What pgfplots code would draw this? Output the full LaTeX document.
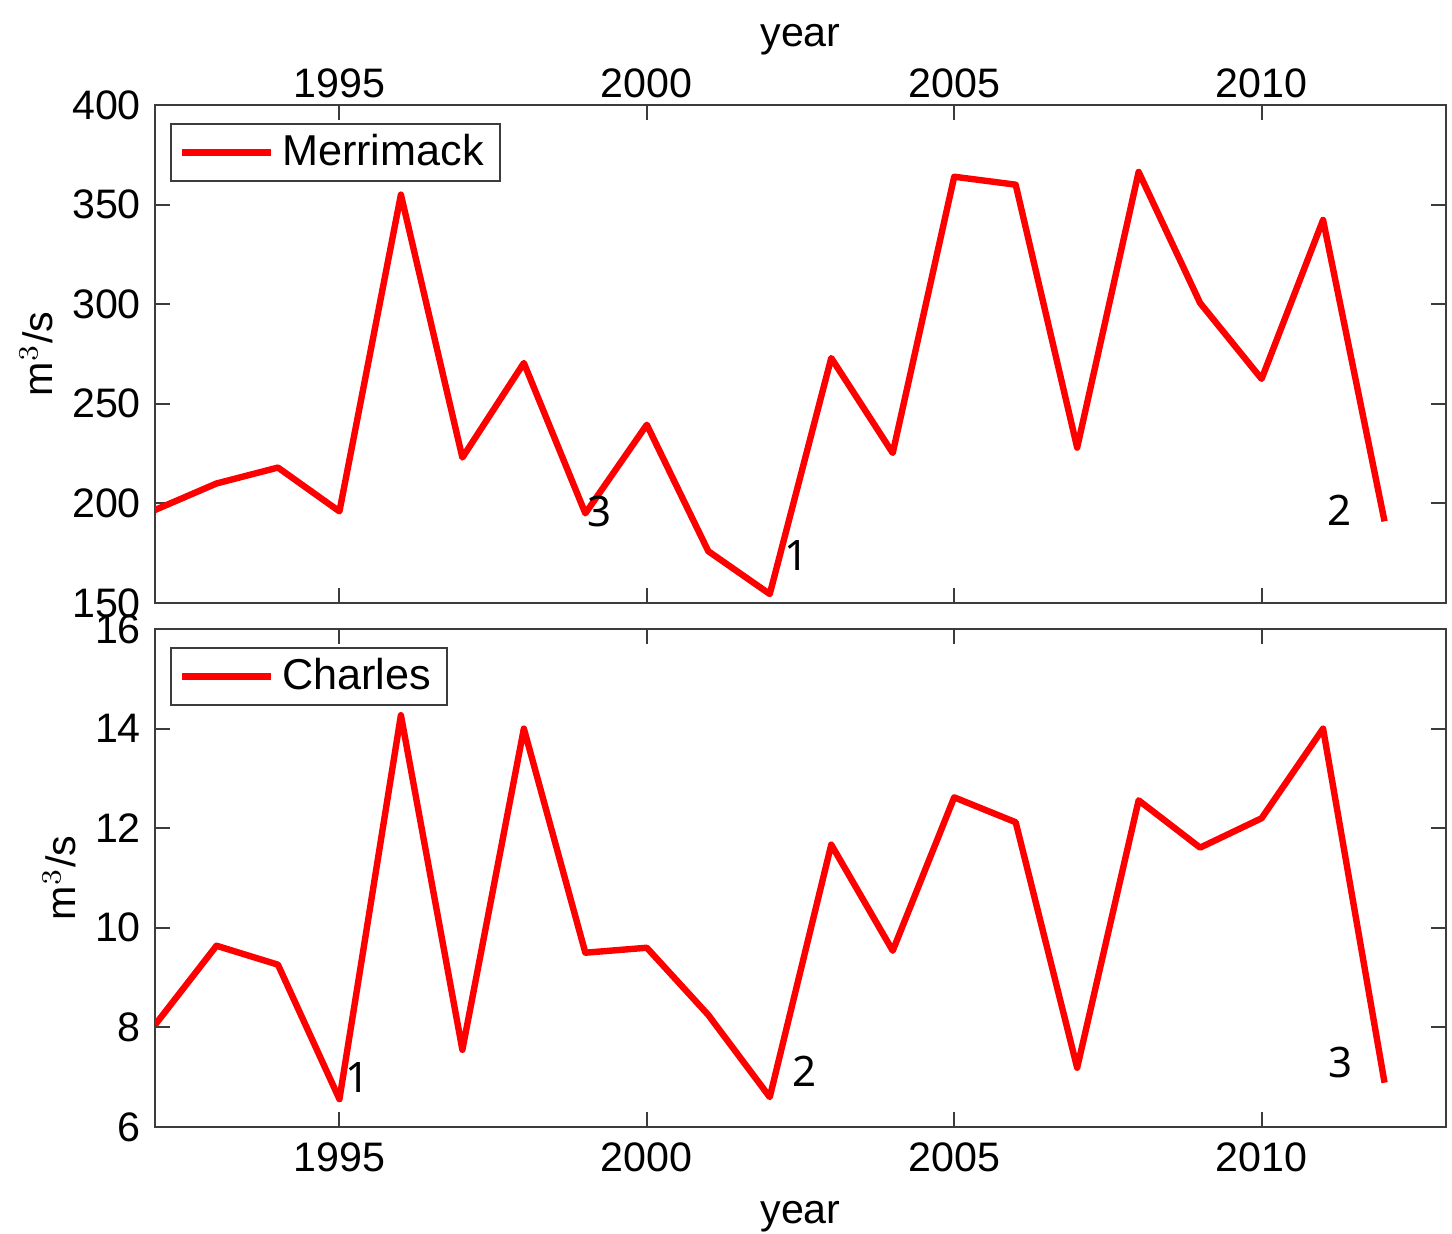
\documentclass[border=0pt]{standalone}
\usepackage{fontspec}
\setmainfont{Liberation Sans}
\newfontfamily\notefont{Noto Sans}
\usepackage{pgfplots}
\pgfplotsset{compat=1.18}

\definecolor{axgray}{RGB}{60,60,60}

\pgfplotsset{
  flowaxis/.style={
    scale only axis,
    width=322.75pt, height=124.5pt,
    xmin=1992, xmax=2013,
    xtick={1995,2000,2005,2010},
    axis line style={axgray, line width=0.5pt},
    every tick/.style={axgray, line width=0.5pt},
    major tick length=3.7pt,
    tick align=inside,
    ytick pos=both, yticklabel pos=left,
    xtick pos=both,
    /pgf/number format/assume math mode=true,
    /pgf/number format/1000 sep={},
    tick label style={font=\fontsize{10.3}{12}\selectfont},
    label style={font=\fontsize{10.3}{12}\selectfont},
    ylabel={m$^3$/s},
    legend style={at={(0.0116,0.964)}, anchor=north west,
      draw=axgray, line width=0.5pt,
      font=\fontsize{10.8}{11}\selectfont,
      inner xsep=2pt, inner ysep=0.5pt},
    legend image post style={line width=1.6pt},
    legend cell align=left,
  },
  legend image code/.code={\draw[#1] (0cm,0cm) -- (0.78cm,0cm);},
  flowline/.style={red, line width=1.6pt, line join=round},
}
\tikzset{note/.style={font=\notefont\fontsize{10.5}{12}\selectfont, text=black}}

\begin{document}
\begin{tikzpicture}
\path[use as bounding box] (-38.75pt,-26.5pt) rectangle (324.25pt,281.75pt);

% Merrimack river annual discharge
\begin{axis}[flowaxis,
  at={(0pt,131pt)}, anchor=south west,
  ymin=150, ymax=400, ytick={150,200,250,300,350,400},
  xticklabel pos=right,
  xticklabel style={yshift=-1.75pt},
  xlabel={year},
  xlabel style={yshift=-3.5pt},
  ylabel style={yshift=-2pt},
]
\addplot[flowline] coordinates {
  (1992,196.7) (1993,210) (1994,218) (1995,196) (1996,355)
  (1997,223) (1998,270.5) (1999,195) (2000,239.5) (2001,176)
  (2002,154.5) (2003,273) (2004,225.3) (2005,364) (2006,360)
  (2007,228) (2008,366.4) (2009,300.6) (2010,262.5) (2011,342.3)
  (2012,191)
};
\addlegendentry{Merrimack}
\node[note] at (axis cs:1999.23,195.7) {3};
\node[note] at (axis cs:2002.44,173.6) {1};
\node[note] at (axis cs:2011.27,196.7) {2};
\end{axis}

% Charles river annual discharge
\begin{axis}[flowaxis,
  at={(0pt,0pt)}, anchor=south west,
  ymin=6, ymax=16, ytick={6,8,10,12,14,16},
  xticklabel pos=left,
  xticklabel style={yshift=-0.5pt},
  xlabel={year},
  xlabel style={yshift=-0.5pt},
  ylabel style={yshift=-2pt},
]
\addplot[flowline] coordinates {
  (1992,8.05) (1993,9.64) (1994,9.26) (1995,6.56) (1996,14.27)
  (1997,7.55) (1998,14.0) (1999,9.5) (2000,9.6) (2001,8.25)
  (2002,6.6) (2003,11.67) (2004,9.54) (2005,12.62) (2006,12.12)
  (2007,7.19) (2008,12.56) (2009,11.61) (2010,12.2) (2011,14.0)
  (2012,6.89)
};
\addlegendentry{Charles}
\node[note] at (axis cs:1995.29,7.0) {1};
\node[note] at (axis cs:2002.57,7.11) {2};
\node[note] at (axis cs:2011.29,7.29) {3};
\end{axis}
\end{tikzpicture}
\end{document}
